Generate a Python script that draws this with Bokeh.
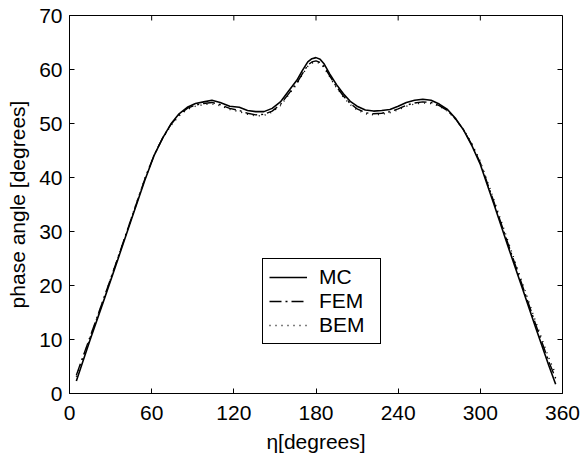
from bokeh.plotting import figure
from bokeh.models import FixedTicker, Legend, LegendItem, Range1d
from bokeh.embed import file_html
from bokeh.resources import INLINE

eta = [5, 15, 25, 35, 45, 55, 62, 68, 74, 80, 86, 92, 98, 104, 110, 117, 124, 130, 136,
       142, 148, 154, 160, 166, 170, 174, 177, 180, 183, 186, 190, 195, 200, 205, 210,
       216, 222, 228, 234, 240, 246, 252, 258, 264, 270, 276, 282, 288, 294, 300, 310,
       320, 330, 340, 350, 355]

mc = [2.3, 9.9, 17.2, 24.6, 32.1, 39.5, 44.2, 47.3, 49.9, 51.8, 53.0, 53.7, 54.0, 54.3,
      53.9, 53.2, 53.0, 52.4, 52.2, 52.2, 52.8, 54.0, 56.0, 58.0, 59.8, 61.4, 62.0, 62.2,
      61.9, 61.0, 59.2, 57.2, 55.5, 54.1, 53.2, 52.5, 52.3, 52.4, 52.6, 53.2, 53.9, 54.3,
      54.5, 54.3, 53.6, 52.6, 50.9, 48.7, 45.8, 42.4, 35.0, 27.4, 20.0, 12.5, 5.2, 1.7]

fem = [3.4, 10.5, 17.6, 24.9, 32.3, 39.7, 44.3, 47.3, 49.8, 51.6, 52.8, 53.4, 53.7, 53.9,
       53.5, 52.8, 52.4, 51.9, 51.6, 51.7, 52.3, 53.5, 55.5, 57.5, 59.2, 60.8, 61.4, 61.6,
       61.3, 60.5, 58.8, 56.8, 55.1, 53.7, 52.7, 52.0, 51.8, 51.9, 52.2, 52.7, 53.4, 53.8,
       54.0, 53.9, 53.3, 52.4, 50.8, 48.7, 46.0, 42.7, 35.4, 27.9, 20.5, 13.1, 5.9, 2.8]

bem = [3.1, 10.3, 17.5, 24.9, 32.4, 39.8, 44.3, 47.2, 49.6, 51.4, 52.6, 53.2, 53.5, 53.6,
       53.3, 52.6, 52.2, 51.7, 51.4, 51.5, 52.1, 53.3, 55.3, 57.3, 59.0, 60.6, 61.2, 61.4,
       61.1, 60.3, 58.6, 56.6, 54.9, 53.5, 52.5, 51.8, 51.6, 51.7, 52.0, 52.5, 53.2, 53.6,
       53.8, 53.7, 53.2, 52.3, 50.8, 48.8, 46.2, 43.0, 35.8, 28.4, 21.0, 13.6, 6.6, 3.6]

x_ticks = [0, 60, 120, 180, 240, 300, 360]
y_ticks = [0, 10, 20, 30, 40, 50, 60, 70]

FONT = "Liberation Sans"
FS = "21px"

W, H = 581, 455
BL, BR, BT, BB = 69, 19, 15, 61
X0, X1, Y0, Y1 = 0, 360, 0, 70

p = figure(width=W, height=H, x_range=Range1d(X0, X1), y_range=Range1d(Y0, Y1),
           output_backend="svg", toolbar_location=None,
           min_border_left=BL, min_border_right=BR, min_border_top=BT, min_border_bottom=BB,
           x_axis_label="η[degrees]", y_axis_label="phase angle [degrees]")
p.grid.visible = False
p.outline_line_color = "black"
p.outline_line_width = 1
p.outline_line_alpha = 1
p.background_fill_color = "white"
p.border_fill_color = "white"

for ax, ticks in ((p.xaxis[0], x_ticks), (p.yaxis[0], y_ticks)):
    ax.ticker = FixedTicker(ticks=ticks)
    ax.major_tick_in = 5
    ax.major_tick_out = 0
    ax.minor_tick_line_color = None
    ax.axis_line_color = "black"
    ax.major_tick_line_color = "black"
    ax.major_label_text_font = FONT
    ax.major_label_text_font_size = FS
    ax.major_label_text_color = "black"
    ax.axis_label_text_font = FONT
    ax.axis_label_text_font_size = FS
    ax.axis_label_text_font_style = "normal"
    ax.axis_label_text_color = "black"

p.xaxis[0].major_label_standoff = 12
p.xaxis[0].axis_label_standoff = 7
p.yaxis[0].major_label_standoff = 7
p.yaxis[0].axis_label_standoff = 7

# inward ticks on the top and right edges of the box (5 px long)
fw = W - BL - BR
fh = H - BT - BB
dx = 5 * (X1 - X0) / fw
dy = 5 * (Y1 - Y0) / fh
p.segment(x0=x_ticks, y0=[Y1] * len(x_ticks), x1=x_ticks, y1=[Y1 - dy] * len(x_ticks),
          line_color="black", line_width=1)
p.segment(x0=[X1] * len(y_ticks), y0=y_ticks, x1=[X1 - dx] * len(y_ticks), y1=y_ticks,
          line_color="black", line_width=1)

r_mc = p.line(eta, mc, line_color="black", line_width=1.6)
r_fem = p.line(eta, fem, line_color="black", line_width=1.4, line_dash="12 4 2 4")
r_bem = p.line(eta, bem, line_color="black", line_width=1.4, line_dash="1 5")

legend = Legend(items=[LegendItem(label="MC", renderers=[r_mc]),
                       LegendItem(label="FEM", renderers=[r_fem]),
                       LegendItem(label="BEM", renderers=[r_bem])],
                location=(193, 49))
legend.label_text_font = FONT
legend.label_text_font_size = FS
legend.label_text_color = "black"
legend.border_line_color = "black"
legend.border_line_width = 1
legend.border_line_alpha = 1
legend.background_fill_color = "white"
legend.background_fill_alpha = 1
legend.padding = 6
legend.spacing = 0
legend.margin = 0
legend.glyph_height = 22
legend.label_height = 22
legend.glyph_width = 38
legend.label_standoff = 12
legend.label_width = 55
p.add_layout(legend, "center")

open("out.html", "w").write(file_html(p, INLINE))
